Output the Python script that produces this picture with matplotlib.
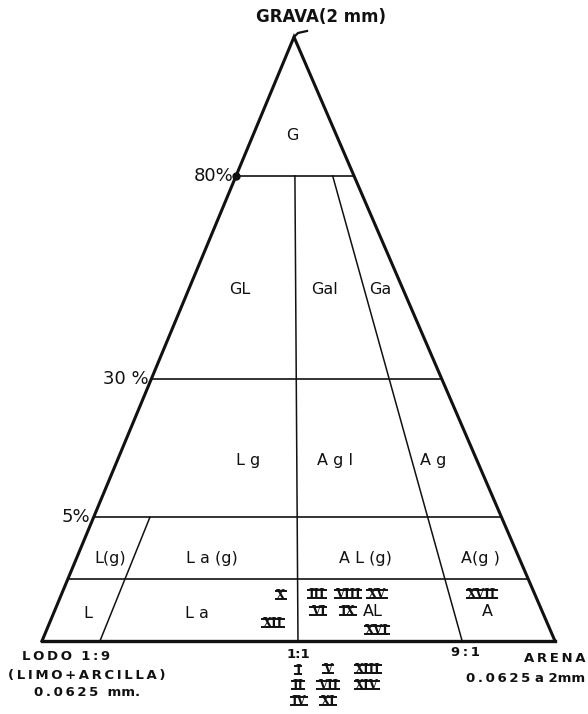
import matplotlib
matplotlib.use("Agg")
import matplotlib.pyplot as plt

# ---- classification data ----------------------------------------------
gravel_labels = ["80%", "30 %", "5%", ""]          # boundary labels (last = trace)
gravel_heights = [0.770, 0.434, 0.205, 0.103]      # drawn height of each boundary

ratio_labels = ["1:1", "9:1"]                      # sand:mud lines from the apex
ratio_fracs = [0.499, 0.819]
ratio_top = 0.770                                  # they start at the 80% boundary
mud_line = (0.138, 0.113)                          # 1:9 line: fraction at 5% and at base

class_names = ["G", "GL", "Gal", "Ga", "L g", "A g l", "A g",
               "L(g)", "L a (g)", "A L (g)", "A(g )", "L", "L a", "AL", "A"]
class_xy = [(292, 136), (240, 290), (325, 290), (380, 290),
            (248, 460), (335, 460), (433, 460),
            (110, 558), (212, 558), (365, 558), (480, 558),
            (88, 614), (197, 614), (373, 611), (487, 612)]

sample_ids = ["X", "XII", "III", "VIII", "XV", "VI", "IX", "XVI", "XVII",
              "I", "V", "XIII", "II", "VII", "XIV", "IV", "XI"]
sample_xy = [(281, 595), (273, 623), (317, 594), (348, 594), (377, 594),
             (318, 611), (348, 611), (377, 630), (482, 594),
             (298, 670), (328, 669), (368, 669), (298, 685), (328, 685),
             (367, 685), (299, 701), (328, 701)]

# ---- canvas -------------------------------------------------------------
W, H = 588, 714
fig = plt.figure(figsize=(W / 100, H / 100), dpi=100)
ax = fig.add_axes([0, 0, 1, 1])
ax.set_xlim(0, W)
ax.set_ylim(H, 0)
ax.axis("off")

APEX, LEFT, RIGHT = (294, 37), (42, 641), (555, 641)


def level(h):
    """Left x, right x and y of a horizontal line at height fraction h."""
    y = LEFT[1] + (APEX[1] - LEFT[1]) * h
    xl = LEFT[0] + (APEX[0] - LEFT[0]) * h
    xr = RIGHT[0] + (APEX[0] - RIGHT[0]) * h
    return xl, xr, y


def point(h, f):
    xl, xr, y = level(h)
    return xl + f * (xr - xl), y


K = "#111111"
# outer triangle
ax.plot([LEFT[0], APEX[0], RIGHT[0]], [LEFT[1], APEX[1], RIGHT[1]],
        color=K, lw=2.2, solid_joinstyle="miter")
ax.plot([LEFT[0], RIGHT[0]], [LEFT[1], RIGHT[1]], color=K, lw=2.4)
# small hook at the apex
ax.plot([APEX[0], APEX[0] + 4, APEX[0] + 13], [APEX[1], APEX[1] - 4, APEX[1] - 6],
        color=K, lw=1.6)

# gravel boundaries
lab_font = dict(family="DejaVu Sans", fontsize=13, color=K)
for lab, h in zip(gravel_labels, gravel_heights):
    xl, xr, y = level(h)
    ax.plot([xl, xr], [y, y], color=K, lw=1.2)
    if lab:
        ax.text(xl - 3, y, lab, ha="right", va="center", **lab_font)
xl80, _, y80 = level(gravel_heights[0])
ax.plot([xl80], [y80], "o", color=K, ms=5)

# sand:mud ratio lines
for f in ratio_fracs:
    x0, y0 = point(ratio_top, f)
    x1, y1 = point(0, f)
    ax.plot([x0, x1], [y0, y1], color=K, lw=1.1)
x0, y0 = point(gravel_heights[2], mud_line[0])
x1, y1 = point(0, mud_line[1])
ax.plot([x0, x1], [y0, y1], color=K, lw=1.1)

# class labels
for name, (x, y) in zip(class_names, class_xy):
    ax.text(x, y, name, ha="center", va="center", family="DejaVu Sans",
            fontsize=11.5, color=K)

# sample numerals with bars above and below
NUM_FS = 8.5
cap_px = 0.73 * NUM_FS * 100 / 72
num_texts = []
for sid, (x, y) in zip(sample_ids, sample_xy):
    t = ax.text(x, y + cap_px / 2, sid, ha="center", va="baseline",
                family="DejaVu Serif", fontweight="bold", fontsize=NUM_FS, color=K)
    num_texts.append((t, y))
fig.canvas.draw()
renderer = fig.canvas.get_renderer()
inv = ax.transData.inverted()
for t, y in num_texts:
    bb = t.get_window_extent(renderer)
    (xa, _), (xb, _) = inv.transform([(bb.x0 - 1.5, bb.y0), (bb.x1 + 1.5, bb.y1)])
    for yy in (y - cap_px / 2, y + cap_px / 2):
        ax.plot([xa, xb], [yy, yy], color=K, lw=1.4, solid_capstyle="butt")

# corner and axis captions
TS = "\u2009"
def spaced(s):
    return TS.join(s)

cap = dict(family="DejaVu Sans", fontweight="bold", fontsize=9.5, color=K)
ax.text(321, 17, "GRAVA(2 mm)", ha="center", va="center",
        family=["Liberation Sans Narrow", "DejaVu Sans"], fontweight="bold",
        fontsize=12, color=K)
ax.text(22, 657, spaced("LODO") + "  " + spaced("1:9"), ha="left", va="center", **cap)
ax.text(8, 675, spaced("(LIMO+ARCILLA)"), ha="left", va="center", **cap)
ax.text(34, 693, spaced("0.0625") + "  mm.", ha="left", va="center", **cap)
ax.text(298, 654, ratio_labels[0], ha="center", va="center", **cap)
ax.text(465, 652, spaced(ratio_labels[1]), ha="center", va="center", **cap)
ax.text(585, 658, spaced("ARENA"), ha="right", va="center", **cap)
ax.text(585, 678, spaced("0.0625") + " a 2mm", ha="right", va="center", **cap)

fig.savefig("out.png", dpi=100, facecolor="white")
